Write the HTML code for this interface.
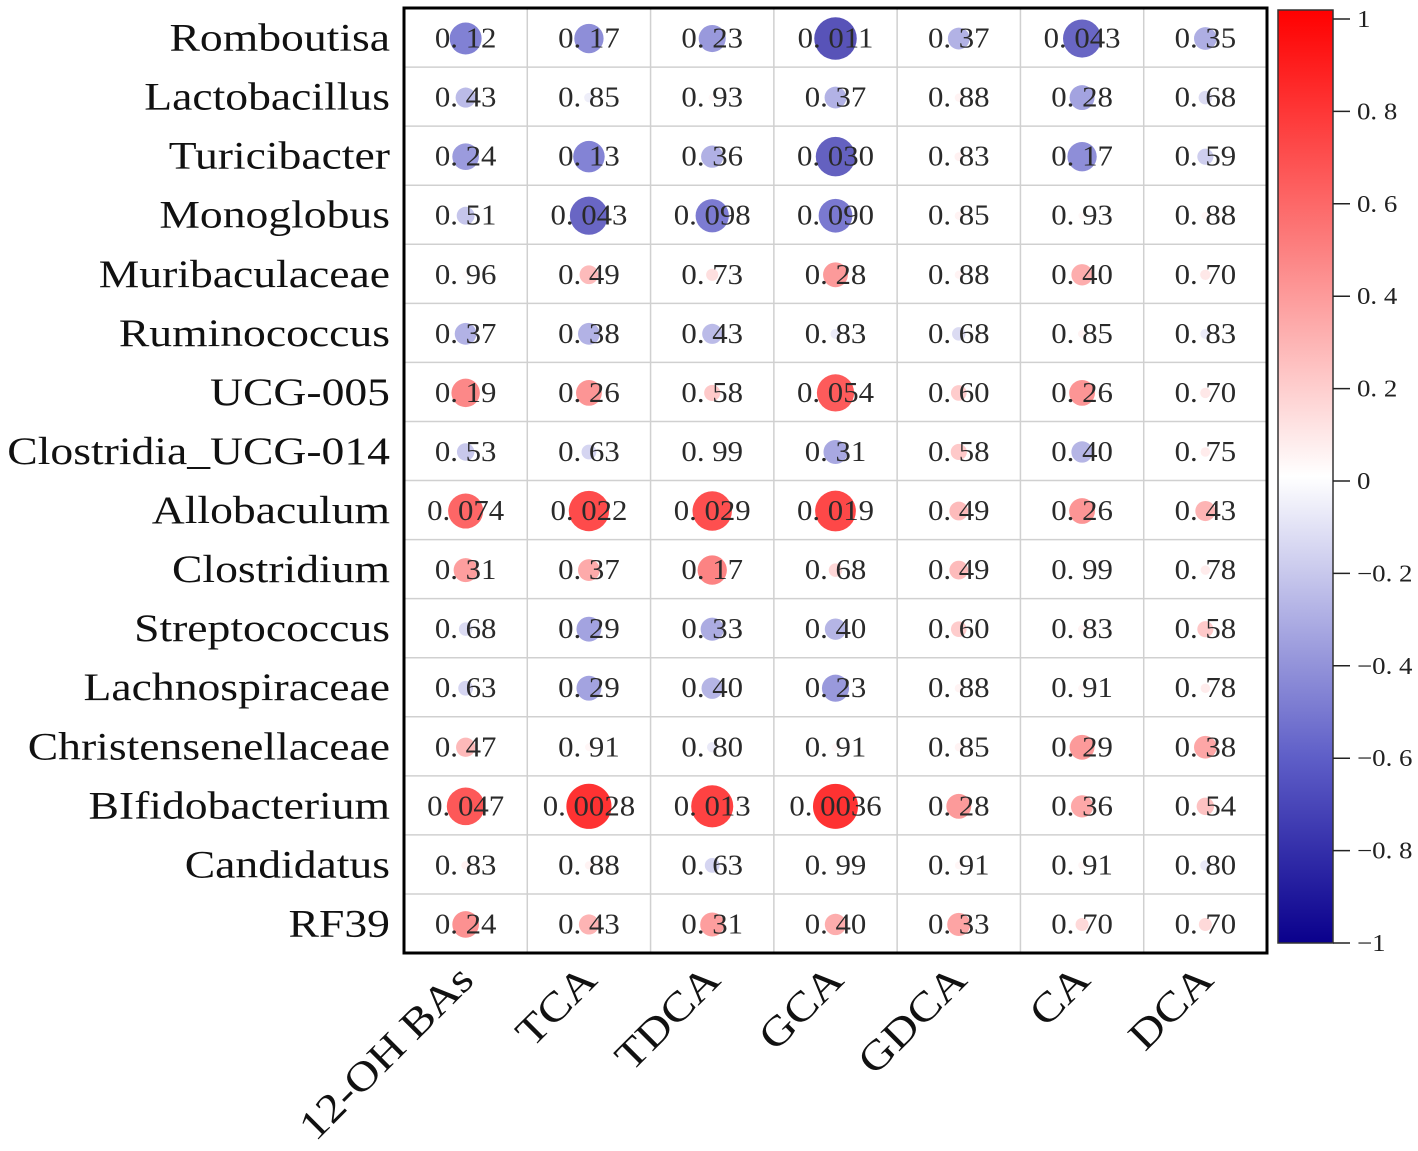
<!DOCTYPE html>
<html><head><meta charset="utf-8"><style>
html,body{margin:0;padding:0;background:#fff;}
svg{display:block;}
</style></head><body>
<svg id="chart" width="1418" height="1151" xmlns="http://www.w3.org/2000/svg" font-family="'Liberation Serif','Noto Serif CJK SC',serif"></svg>
<script>
const rowLabels = ["Romboutisa","Lactobacillus","Turicibacter","Monoglobus","Muribaculaceae","Ruminococcus","UCG-005","Clostridia_UCG-014","Allobaculum","Clostridium","Streptococcus","Lachnospiraceae","Christensenellaceae","BIfidobacterium","Candidatus","RF39"];
const colLabels = ["12-OH BAs","TCA","TDCA","GCA","GDCA","CA","DCA"];
const pValues = [
 ["0. 12","0. 17","0. 23","0. 011","0. 37","0. 043","0. 35"],
 ["0. 43","0. 85","0. 93","0. 37","0. 88","0. 28","0. 68"],
 ["0. 24","0. 13","0. 36","0. 030","0. 83","0. 17","0. 59"],
 ["0. 51","0. 043","0. 098","0. 090","0. 85","0. 93","0. 88"],
 ["0. 96","0. 49","0. 73","0. 28","0. 88","0. 40","0. 70"],
 ["0. 37","0. 38","0. 43","0. 83","0. 68","0. 85","0. 83"],
 ["0. 19","0. 26","0. 58","0. 054","0. 60","0. 26","0. 70"],
 ["0. 53","0. 63","0. 99","0. 31","0. 58","0. 40","0. 75"],
 ["0. 074","0. 022","0. 029","0. 019","0. 49","0. 26","0. 43"],
 ["0. 31","0. 37","0. 17","0. 68","0. 49","0. 99","0. 78"],
 ["0. 68","0. 29","0. 33","0. 40","0. 60","0. 83","0. 58"],
 ["0. 63","0. 29","0. 40","0. 23","0. 88","0. 91","0. 78"],
 ["0. 47","0. 91","0. 80","0. 91","0. 85","0. 29","0. 38"],
 ["0. 047","0. 0028","0. 013","0. 0036","0. 28","0. 36","0. 54"],
 ["0. 83","0. 88","0. 63","0. 99","0. 91","0. 91","0. 80"],
 ["0. 24","0. 43","0. 31","0. 40","0. 33","0. 70","0. 70"]
];
const corrValues = [
 [-0.59,-0.53,-0.48,-0.83,-0.36,-0.73,-0.38],
 [-0.32,-0.08,0.03,-0.36,0.05,-0.43,-0.17],
 [-0.47,-0.58,-0.37,-0.76,0.06,-0.53,-0.23],
 [-0.27,-0.73,-0.62,-0.63,0.05,0.03,0.04],
 [0.02,0.29,0.14,0.43,0.05,0.35,0.1],
 [-0.36,-0.36,-0.32,-0.09,-0.17,0.05,-0.09],
 [0.51,0.45,0.23,0.71,0.22,0.45,0.1],
 [-0.26,-0.2,0.01,-0.41,0.23,-0.35,0.08],
 [0.66,0.78,0.76,0.79,0.29,0.45,0.32],
 [0.41,0.36,0.53,0.17,0.29,0.01,0.08],
 [-0.17,-0.43,-0.39,-0.35,0.22,0.05,0.23],
 [-0.2,-0.43,-0.35,-0.48,0.05,0.04,0.08],
 [0.3,0.04,-0.1,0.04,0.05,0.43,0.38],
 [0.72,0.89,0.82,0.887,0.43,0.37,0.26],
 [0.06,0.05,-0.2,0.01,0.04,0.04,-0.1],
 [0.47,0.32,0.41,0.35,0.39,0.16,0.16]
];
const cbTicks = [1,0.8,0.6,0.4,0.2,0,-0.2,-0.4,-0.6,-0.8,-1];
const cbTickLabels = ["1","0. 8","0. 6","0. 4","0. 2","0","\u22120. 2","\u22120. 4","\u22120. 6","\u22120. 8","\u22121"];

const NS="http://www.w3.org/2000/svg";
const svg=document.getElementById('chart');
function mk(t,a,p){const e=document.createElementNS(NS,t);for(const k in a)e.setAttribute(k,a[k]);(p||svg).appendChild(e);return e;}
const X0=404,X1=1267,Y0=8,Y1=953;
const cw=(X1-X0)/colLabels.length, ch=(Y1-Y0)/rowLabels.length;
const xC=j=>X0+cw*(j+0.5), yC=i=>Y0+ch*(i+0.5);
function color(v){
  const stops=[[-1,[10,0,140]],[-0.6,[95,95,200]],[0,[255,255,255]],[0.5,[252,125,125]],[1,[255,0,0]]];
  for(let k=0;k<stops.length-1;k++){const[a,ca]=stops[k],[b,cb]=stops[k+1];
    if(v>=a&&v<=b){const t=(v-a)/(b-a);return 'rgb('+ca.map((c,i)=>Math.round(c+(cb[i]-c)*t)).join(',')+')';}}
  return '#fff';
}
const rad=v=>Math.abs(v)<0.015?0:3+22*Math.abs(v);
const grid=mk('g',{});

for(let j=1;j<colLabels.length;j++)mk('line',{x1:X0+cw*j,x2:X0+cw*j,y1:Y0,y2:Y1,stroke:'#d0d0d0','stroke-width':1.5},grid);
for(let i=1;i<rowLabels.length;i++)mk('line',{x1:X0,x2:X1,y1:Y0+ch*i,y2:Y0+ch*i,stroke:'#d0d0d0','stroke-width':1.5},grid);
for(let i=0;i<rowLabels.length;i++){
  for(let j=0;j<colLabels.length;j++){
    const v=corrValues[i][j];
    const c=mk('circle',{cx:xC(j),cy:yC(i)+1,r:rad(v),fill:color(v),'fill-opacity':v<0?0.8:0.9});
    
    
    const x=xC(j),y=yC(i)+10;
    const t=mk('text',{x:0,y:0,'text-anchor':'middle','font-size':28,fill:'#2a2a2a',transform:'translate('+x+' '+y+') scale(1.1 1)'});
    t.textContent=pValues[i][j];
    
    
  }
  const y=yC(i)+13;
  const rl=mk('text',{x:0,y:0,'text-anchor':'end','font-size':39,fill:'#111',transform:'translate(390 '+y+') scale(1.17 1)'});
  rl.textContent=rowLabels[i];
  
  
}
const border=mk('rect',{x:X0,y:Y0,width:X1-X0,height:Y1-Y0,fill:'none',stroke:'#000','stroke-width':3});


for(let j=0;j<colLabels.length;j++){
  const x=xC(j)+10,y=982;
  const t=mk('text',{x:0,y:0,'text-anchor':'end','font-size':41,fill:'#111',transform:'translate('+x+' '+y+') rotate(-45) scale(1.15 1)'});
  t.textContent=colLabels[j];
  
  
}
const CBX=1278,CBW=55,CBY0=10,CBY1=943;
const defs=mk('defs',{});
const lg=mk('linearGradient',{id:'cbg',x1:0,y1:0,x2:0,y2:1},defs);
for(let k=0;k<=20;k++){const v=1-k/10;mk('stop',{offset:(k/20),'stop-color':color(v)},lg);}
const cb=mk('rect',{x:CBX,y:CBY0,width:CBW,height:CBY1-CBY0,fill:'url(#cbg)',stroke:'#333','stroke-width':1.5});


const cy=v=>481-462*v;
cbTicks.forEach((v,k)=>{
  mk('line',{x1:CBX+CBW,x2:CBX+CBW+17,y1:cy(v),y2:cy(v),stroke:'#222','stroke-width':1.5});
  const y=cy(v)+8;
  const t=mk('text',{x:0,y:0,'font-size':24,fill:'#222',transform:'translate(1357 '+y+') scale(1.12 1)'});
  t.textContent=cbTickLabels[k];
  
  
});
</script>
</body></html>
